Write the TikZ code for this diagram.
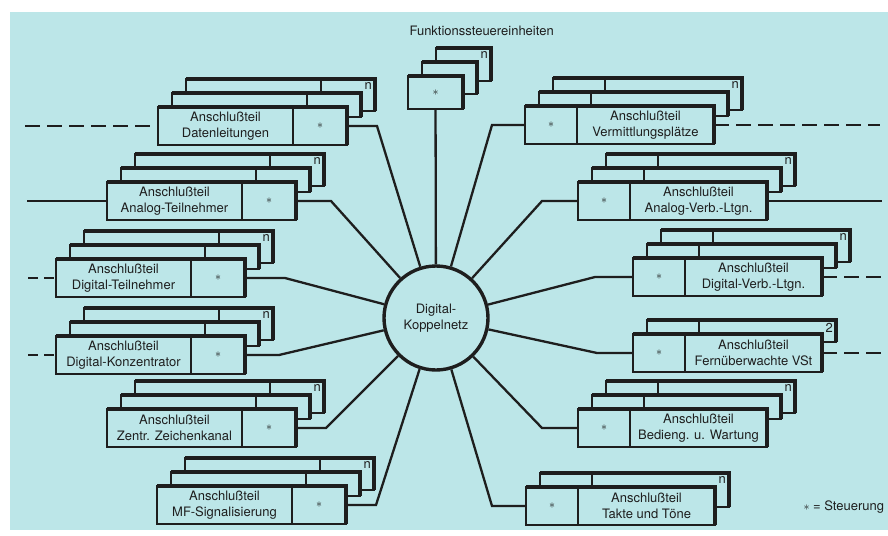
\documentclass[tikz,border=0pt]{standalone}
\usepackage{fontspec}
\setmainfont{TeX Gyre Heros}
\usetikzlibrary{calc,positioning}
\definecolor{hell}{RGB}{188,230,232}
\definecolor{tinte}{RGB}{30,30,30}
\tikzset{%
	teil/.style     = {draw, fill=hell, rectangle, minimum height=38pt, inner sep=0pt, outer sep=0pt, align=center, line width=1.4pt},
	stern/.style    = {teil, minimum width=54pt},
	dick/.style     = {line width=3.2pt},
	leitung/.style  = {line width=2.3pt},
	gestrichelt/.style = {leitung, dash pattern=on 15pt off 7pt},
	kurzstrich/.style  = {leitung, dash pattern=on 10pt off 6pt},
	knoten/.style   = {draw, circle, fill=hell, line width=3.4pt, minimum size=104pt, inner sep=0pt, align=center},
	anzahl/.style   = {anchor=north east, inner sep=3pt},
}
% hintere Lage eines Stapels: #1,#2 Ecke vorn, #3 Lage, #4 Breite, #5 Teiler, #6 Haken, #7 Zahl
\newcommand{\lage}[7]{%
	\begin{scope}[shift={({#1+14*#3},{#2-14*#3})}]
		\filldraw[fill=hell, line width=1.4pt] (0,0) rectangle (#4,{14*#3+#6});
		\draw[line width=1.4pt] (#5,0) -- (#5,{14*#3+#6});
		\draw[dick] (0,0) -- (#4,0) -- (#4,{14*#3+#6});
		\node[anzahl] at (#4,0) {#7};
	\end{scope}}
\newcommand{\st}{$\ast$}

\begin{document}
\begin{tikzpicture}[x=1pt, y=-1pt, color=tinte, font=\fontsize{13}{16}\selectfont]
	\useasboundingbox (0,0) rectangle (888,535);
	\fill[hell] (10,12) rectangle (888,530);

	\node[knoten] (knz) at (436,318) {Digital-\\Koppelnetz};

	% Funktionssteuereinheiten
	\node[anchor=west] (titel) at (406,31) {Funktionssteuereinheiten};
	\lage{408}{76}{2}{55}{0}{5}{n}
	\lage{408}{76}{1}{55}{0}{18}{}
	\node[teil, minimum width=55pt, minimum height=33pt, anchor=north west] (fkt) at (408,76) {\st};
	\draw[dick] (fkt.north west) -- (fkt.north east) -- (fkt.south east);

	% linke Seite
	\lage{158}{107}{2}{189}{135}{4}{n}
	\lage{158}{107}{1}{189}{135}{10}{}
	\node[teil, minimum width=135pt, anchor=north west] (dat) at (158,107) {Anschlußteil\\Datenleitungen};
	\node[stern, right=0pt of dat] (dat-s) {\st};
	\draw[dick] (dat.north west) -- (dat-s.north east) -- (dat-s.south east);

	\lage{107}{182}{2}{189}{135}{4}{n}
	\lage{107}{182}{1}{189}{135}{10}{}
	\node[teil, minimum width=135pt, anchor=north west] (anat) at (107,182) {Anschlußteil\\Analog-Teilnehmer};
	\node[stern, right=0pt of anat] (anat-s) {\st};
	\draw[dick] (anat.north west) -- (anat-s.north east) -- (anat-s.south east);

	\lage{56}{259}{2}{189}{135}{4}{n}
	\lage{56}{259}{1}{189}{135}{10}{}
	\node[teil, minimum width=135pt, anchor=north west] (digt) at (56,259) {Anschlußteil\\Digital-Teilnehmer};
	\node[stern, right=0pt of digt] (digt-s) {\st};
	\draw[dick] (digt.north west) -- (digt-s.north east) -- (digt-s.south east);

	\lage{56}{336}{2}{189}{135}{4}{n}
	\lage{56}{336}{1}{189}{135}{10}{}
	\node[teil, minimum width=135pt, anchor=north west] (konz) at (56,336) {Anschlußteil\\Digital-Konzentrator};
	\node[stern, right=0pt of konz] (konz-s) {\st};
	\draw[dick] (konz.north west) -- (konz-s.north east) -- (konz-s.south east);

	\lage{107}{409}{2}{189}{135}{4}{n}
	\lage{107}{409}{1}{189}{135}{10}{}
	\node[teil, minimum width=135pt, anchor=north west] (zzk) at (107,409) {Anschlußteil\\Zentr. Zeichenkanal};
	\node[stern, right=0pt of zzk] (zzk-s) {\st};
	\draw[dick] (zzk.north west) -- (zzk-s.north east) -- (zzk-s.south east);

	\lage{157}{486}{2}{189}{135}{4}{n}
	\lage{157}{486}{1}{189}{135}{10}{}
	\node[teil, minimum width=135pt, anchor=north west] (mfs) at (157,486) {Anschlußteil\\MF-Signalisierung};
	\node[stern, right=0pt of mfs] (mfs-s) {\st};
	\draw[dick] (mfs.north west) -- (mfs-s.north east) -- (mfs-s.south east);

	% rechte Seite
	\lage{525}{106}{2}{189}{52}{4}{n}
	\lage{525}{106}{1}{189}{52}{10}{}
	\node[stern, minimum width=52pt, anchor=north west] (verm-s) at (525,106) {\st};
	\node[teil, minimum width=137pt, right=0pt of verm-s] (verm) {Anschlußteil\\Vermittlungsplätze};
	\draw[dick] (verm-s.north west) -- (verm.north east) -- (verm.south east);

	\lage{578}{182}{2}{189}{52}{4}{n}
	\lage{578}{182}{1}{189}{52}{10}{}
	\node[stern, minimum width=52pt, anchor=north west] (anav-s) at (578,182) {\st};
	\node[teil, minimum width=137pt, right=0pt of anav-s] (anav) {Anschlußteil\\Analog-Verb.-Ltgn.};
	\draw[dick] (anav-s.north west) -- (anav.north east) -- (anav.south east);

	\lage{633}{258}{2}{189}{52}{4}{n}
	\lage{633}{258}{1}{189}{52}{10}{}
	\node[stern, minimum width=52pt, anchor=north west] (digv-s) at (633,258) {\st};
	\node[teil, minimum width=137pt, right=0pt of digv-s] (digv) {Anschlußteil\\Digital-Verb.-Ltgn.};
	\draw[dick] (digv-s.north west) -- (digv.north east) -- (digv.south east);

	\lage{633}{334}{1}{189}{52}{8}{2}
	\node[stern, minimum width=52pt, anchor=north west] (fern-s) at (633,334) {\st};
	\node[teil, minimum width=137pt, right=0pt of fern-s] (fern) {Anschlußteil\\Fernüberwachte VSt};
	\draw[dick] (fern-s.north west) -- (fern.north east) -- (fern.south east);

	\lage{578}{409}{2}{189}{52}{4}{n}
	\lage{578}{409}{1}{189}{52}{10}{}
	\node[stern, minimum width=52pt, anchor=north west] (bed-s) at (578,409) {\st};
	\node[teil, minimum width=137pt, right=0pt of bed-s] (bed) {Anschlußteil\\Bedieng. u. Wartung};
	\draw[dick] (bed-s.north west) -- (bed.north east) -- (bed.south east);

	\lage{526}{487}{1}{189}{52}{20}{n}
	\node[stern, minimum width=52pt, anchor=north west] (takt-s) at (526,487) {\st};
	\node[teil, minimum width=137pt, right=0pt of takt-s] (takt) {Anschlußteil\\Takte und Töne};
	\draw[dick] (takt-s.north west) -- (takt.north east) -- (takt.south east);

	\node[anchor=west] (legende) at (800,507) {\st{} = Steuerung};

	% Leitungen nach aussen
	\coordinate (dat-a) at (25,126);
	\coordinate (anat-a) at (27,201);
	\coordinate (digt-a) at (28,278);
	\coordinate (konz-a) at (28,355);
	\coordinate (verm-a) at (880,125);
	\coordinate (anav-a) at (882,201);
	\coordinate (digv-a) at (882,277);
	\coordinate (fern-a) at (882,353);
	\draw[gestrichelt] (dat-a) -- (dat.west);
	\draw[leitung] (anat-a) -- (anat.west);
	\draw[kurzstrich] (digt-a) -- (digt.west);
	\draw[kurzstrich] (konz-a) -- (konz.west);
	\draw[gestrichelt] (verm.east) -- (verm-a);
	\draw[leitung] (anav.east) -- (anav-a);
	\draw[gestrichelt] (digv.east) -- (digv-a);
	\draw[gestrichelt] (fern.east) -- (fern-a);

	% Verbindungen zum Koppelnetz
	\draw[leitung] (fkt) -- (knz);
	\draw[leitung] (dat-s.east) -- ++(30,0) -- (knz);
	\draw[leitung] (anat-s.east) -- ++(35,0) -- (knz);
	\draw[leitung] (digt-s.east) -- ++(40,0) -- (knz);
	\draw[leitung] (konz-s.east) -- ++(34,0) -- (knz);
	\draw[leitung] (zzk-s.east) -- ++(30,0) -- (knz);
	\draw[leitung] (mfs-s.east) -- ++(30,0) -- (knz);
	\draw[leitung] (verm-s.west) -- ++(-33,0) -- (knz);
	\draw[leitung] (anav-s.west) -- ++(-36,0) -- (knz);
	\draw[leitung] (digv-s.west) -- ++(-38,0) -- (knz);
	\draw[leitung] (fern-s.west) -- ++(-36,0) -- (knz);
	\draw[leitung] (bed-s.west) -- ++(-36,0) -- (knz);
	\draw[leitung] (takt-s.west) -- ++(-34,0) -- (knz);
\end{tikzpicture}
\end{document}
